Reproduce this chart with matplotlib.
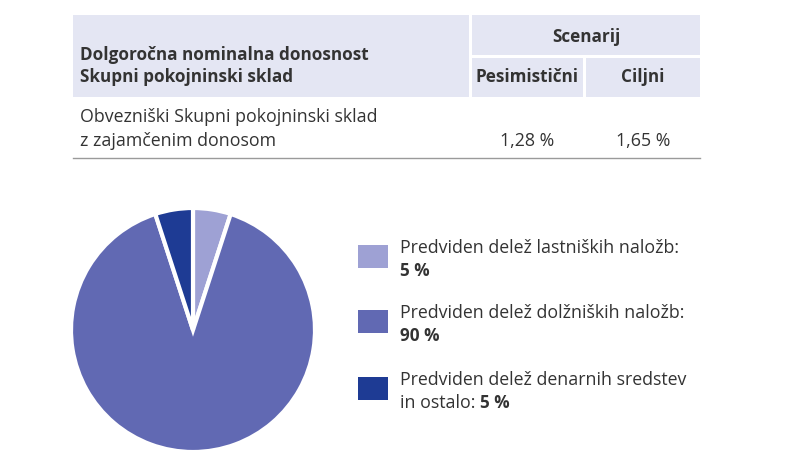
import matplotlib
matplotlib.use("Agg")
import matplotlib.pyplot as plt
from matplotlib.patches import Rectangle

plt.rcParams["font.family"] = "Open Sans"

header_left = ["Dolgoročna nominalna donosnost", "Skupni pokojninski sklad"]
scenario_title = "Scenarij"
scenario_names = ["Pesimistični", "Ciljni"]
fund_name = ["Obvezniški Skupni pokojninski sklad", "z zajamčenim donosom"]
returns = ["1,28 %", "1,65 %"]

shares = [5, 90, 5]
colors = ["#9ea1d4", "#6169b3", "#1e3b94"]
legend_lines = [("Predviden delež lastniških naložb:", "5 %"),
                ("Predviden delež dolžniških naložb:", "90 %"),
                ("Predviden delež denarnih sredstev", "in ostalo: 5 %")]

W, H = 800, 459
FS = 12.8
FB = 12.3
fig = plt.figure(figsize=(8, 4.59), dpi=100)
ax = fig.add_axes([0, 0, 1, 1])
ax.set_xlim(0, W)
ax.set_ylim(H, 0)
ax.axis("off")

txt = "#333333"
hdr = "#e4e6f3"
# header cells
ax.add_patch(Rectangle((73, 15), 396, 82, color=hdr, lw=0))
ax.add_patch(Rectangle((472, 15), 228, 40, color=hdr, lw=0))
ax.add_patch(Rectangle((472, 58), 111, 39, color=hdr, lw=0))
ax.add_patch(Rectangle((586, 58), 114, 39, color=hdr, lw=0))
ax.plot([73, 700], [158, 158], color="#9a9a9a", lw=1)

ax.text(80, 55, header_left[0], fontsize=FB, fontweight="bold", color=txt, va="center")
ax.text(80, 77, header_left[1], fontsize=FB, fontweight="bold", color=txt, va="center")
ax.text(586, 37, scenario_title, fontsize=FB, fontweight="bold", color=txt, ha="center", va="center")
ax.text(527, 77, scenario_names[0], fontsize=FB, fontweight="bold", color=txt, ha="center", va="center")
ax.text(643, 77, scenario_names[1], fontsize=FB, fontweight="bold", color=txt, ha="center", va="center")
ax.text(80, 117, fund_name[0], fontsize=FS, color=txt, va="center")
ax.text(80, 141, fund_name[1], fontsize=FS, color=txt, va="center")
ax.text(527, 141, returns[0], fontsize=FS, color=txt, ha="center", va="center")
ax.text(643, 141, returns[1], fontsize=FS, color=txt, ha="center", va="center")

# legend
for i, (l1, l2) in enumerate(legend_lines):
    y0 = [245, 310, 377][i]
    ax.add_patch(Rectangle((358, y0), 30, 23, color=colors[i], lw=0))
    ax.text(400, y0 + 3, l1, fontsize=FS, color=txt, va="center")
    if i < 2:
        ax.text(400, y0 + 26, l2, fontsize=FB, fontweight="bold", color=txt, va="center")
    else:
        t = ax.text(400, y0 + 26, "in ostalo: ", fontsize=FS, color=txt, va="center")
        fig.canvas.draw()
        bb = t.get_window_extent()
        ax.text(400 + bb.width, y0 + 26, "5 %", fontsize=FB, fontweight="bold", color=txt, va="center")

# pie
R = 122
pax = fig.add_axes([(193 - R) / W, 1 - (330 + R) / H, 2 * R / W, 2 * R / H])
pax.pie(shares, colors=colors, startangle=90, counterclock=False,
        wedgeprops=dict(edgecolor="white", linewidth=3))
pax.set_xlim(-1, 1)
pax.set_ylim(-1, 1)
pax.set_aspect("equal")

fig.savefig("out.png", dpi=100)
